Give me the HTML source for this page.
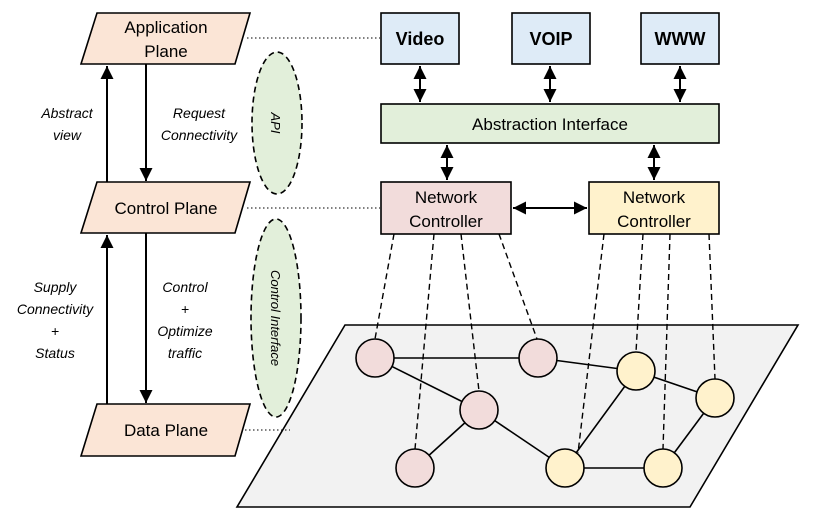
<!DOCTYPE html>
<html><head><meta charset="utf-8"><style>html,body{margin:0;padding:0;background:#fff}svg{display:block}</style></head>
<body>
<svg width="831" height="520" viewBox="0 0 831 520" xmlns="http://www.w3.org/2000/svg" font-family="Liberation Sans, sans-serif">
<defs>
<marker id="a" viewBox="0 0 10 10" refX="10" refY="5" markerWidth="6.5" markerHeight="6.5" orient="auto-start-reverse"><path d="M0,0L10,5L0,10z" fill="#000"/></marker>
</defs>
<polygon points="345,325 798,325 690,507 237,507" fill="#f2f2f2" stroke="#000" stroke-width="1.6"/>
<g stroke="#000" stroke-dasharray="1.5,2.5" stroke-width="1.1">
<line x1="247" y1="38" x2="380" y2="38"/><line x1="247" y1="208" x2="380" y2="208"/><line x1="245" y1="430" x2="290" y2="430"/>
</g>
<g fill="#fbe5d6" stroke="#000" stroke-width="1.6">
<polygon points="97,13 250,13 235,64 81,64"/>
<polygon points="97,182 250,182 235,233 81,233"/>
<polygon points="97,404 250,404 235,456 81,456"/>
</g>
<g font-size="17" text-anchor="middle">
<text x="166" y="33">Application</text><text x="166" y="57">Plane</text>
<text x="166" y="214">Control Plane</text>
<text x="166" y="436">Data Plane</text>
</g>
<g stroke="#000" stroke-width="2">
<line x1="107" y1="182" x2="107" y2="66" marker-end="url(#a)"/>
<line x1="146" y1="64" x2="146" y2="181" marker-end="url(#a)"/>
<line x1="107" y1="404" x2="107" y2="235" marker-end="url(#a)"/>
<line x1="146" y1="233" x2="146" y2="403" marker-end="url(#a)"/>
</g>
<g font-size="14" font-style="italic" text-anchor="middle">
<text x="67" y="118">Abstract</text><text x="67" y="140">view</text>
<text x="199" y="118">Request</text><text x="199" y="140">Connectivity</text>
<text x="55" y="292">Supply</text><text x="55" y="314">Connectivity</text><text x="55" y="336">+</text><text x="55" y="358">Status</text>
<text x="185" y="292">Control</text><text x="185" y="314">+</text><text x="185" y="336">Optimize</text><text x="185" y="358">traffic</text>
</g>
<g fill="#e2efda" stroke="#000" stroke-width="1.6" stroke-dasharray="6,4">
<ellipse cx="277" cy="123" rx="25" ry="71"/>
<ellipse cx="276" cy="318" rx="25" ry="99"/>
</g>
<text font-size="13" font-style="italic" transform="translate(271,123) rotate(90)" text-anchor="middle">API</text>
<text font-size="13" font-style="italic" transform="translate(271,318) rotate(90)" text-anchor="middle">Control Interface</text>
<g fill="#deebf7" stroke="#000" stroke-width="1.6">
<rect x="381" y="13" width="78" height="51"/><rect x="512" y="13" width="78" height="51"/><rect x="641" y="13" width="78" height="51"/>
</g>
<g font-size="18" font-weight="bold" text-anchor="middle">
<text x="420" y="45">Video</text><text x="551" y="45">VOIP</text><text x="680" y="45">WWW</text>
</g>
<rect x="381" y="104" width="338" height="39" fill="#e2efda" stroke="#000" stroke-width="1.6"/>
<text x="550" y="130" font-size="17" text-anchor="middle">Abstraction Interface</text>
<rect x="381" y="182" width="130" height="52" fill="#f2dcdb" stroke="#000" stroke-width="1.6"/>
<rect x="589" y="182" width="130" height="52" fill="#fff2cc" stroke="#000" stroke-width="1.6"/>
<g font-size="17" text-anchor="middle">
<text x="446" y="203">Network</text><text x="446" y="227">Controller</text>
<text x="654" y="203">Network</text><text x="654" y="227">Controller</text>
</g>
<g stroke="#000" stroke-width="2">
<line x1="420" y1="66" x2="420" y2="102" marker-start="url(#a)" marker-end="url(#a)"/>
<line x1="550" y1="66" x2="550" y2="102" marker-start="url(#a)" marker-end="url(#a)"/>
<line x1="680" y1="66" x2="680" y2="102" marker-start="url(#a)" marker-end="url(#a)"/>
<line x1="447" y1="145" x2="447" y2="180" marker-start="url(#a)" marker-end="url(#a)"/>
<line x1="654" y1="145" x2="654" y2="180" marker-start="url(#a)" marker-end="url(#a)"/>
<line x1="513" y1="208" x2="587" y2="208" marker-start="url(#a)" marker-end="url(#a)"/>
</g>
<g stroke="#000" stroke-width="1.4" stroke-dasharray="6,4">
<line x1="394" y1="234" x2="375" y2="339"/>
<line x1="434" y1="234" x2="415" y2="449"/>
<line x1="461" y1="234" x2="479" y2="391"/>
<line x1="499" y1="234" x2="537" y2="339"/>
<line x1="643" y1="234" x2="636" y2="352"/>
<line x1="670" y1="234" x2="663" y2="449"/>
<line x1="709" y1="234" x2="715" y2="379"/>
</g>
<g stroke="#000" stroke-width="1.6">
<line x1="375" y1="358" x2="538" y2="358"/>
<line x1="375" y1="358" x2="479" y2="410"/>
<line x1="479" y1="410" x2="415" y2="468"/>
<line x1="479" y1="410" x2="565" y2="468"/>
<line x1="538" y1="358" x2="636" y2="371"/>
<line x1="636" y1="371" x2="715" y2="398"/>
<line x1="636" y1="371" x2="565" y2="468"/>
<line x1="565" y1="468" x2="663" y2="468"/>
<line x1="663" y1="468" x2="715" y2="398"/>
</g>
<g stroke="#000" stroke-width="1.6">
<g fill="#f2dcdb"><circle cx="375" cy="358" r="19"/><circle cx="538" cy="358" r="19"/><circle cx="479" cy="410" r="19"/><circle cx="415" cy="468" r="19"/></g>
<g fill="#fff2cc"><circle cx="636" cy="371" r="19"/><circle cx="715" cy="398" r="19"/><circle cx="565" cy="468" r="19"/><circle cx="663" cy="468" r="19"/></g>
</g>
<line x1="604" y1="234" x2="578" y2="453" stroke="#000" stroke-width="1.4" stroke-dasharray="6,4"/>
</svg>
</body></html>
